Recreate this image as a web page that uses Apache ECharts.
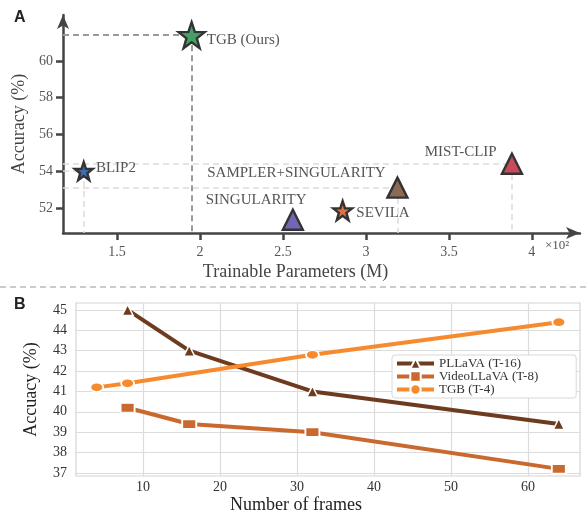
<!DOCTYPE html>
<html><head><meta charset="utf-8">
<script src="https://cdn.jsdelivr.net/npm/echarts@6/dist/echarts.min.js"></script>
<style>html,body{margin:0;padding:0;background:#fff}#c{width:586px;height:510px}</style>
</head><body><div id="c"></div>
<script>
// ---- Panel A data ----
const modelNames = ['TGB (Ours)', 'BLIP2', 'SINGULARITY', 'SEVILA', 'SAMPLER+SINGULARITY', 'MIST-CLIP'];
const modelParams = [1.95, 1.30, 2.56, 2.86, 3.19, 3.88];   // ×10² M
const modelAcc = [61.4, 54.0, 51.35, 51.85, 53.1, 54.4];
const paramTicks = [1.5, 2, 2.5, 3, 3.5, 4];
const accTicksA = [52, 54, 56, 58, 60];

// ---- Panel B data ----
const pllavaFrames = [8, 16, 32, 64];
const pllavaAcc = [45.0, 43.0, 41.0, 39.4];
const videoFrames = [8, 16, 32, 64];
const videoAcc = [40.2, 39.4, 39.0, 37.2];
const tgbFrames = [4, 8, 32, 64];
const tgbAcc = [41.2, 41.4, 42.8, 44.4];
const frameTicks = [10, 20, 30, 40, 50, 60];
const accTicksB = [37, 38, 39, 40, 41, 42, 43, 44, 45];

const SERIF = '"Liberation Serif","DejaVu Serif",serif';
const STAR = 'path://M0,-10 L2.35,-3.24 L9.51,-3.09 L3.8,1.24 L5.88,8.09 L0,4 L-5.88,8.09 L-3.8,1.24 L-9.51,-3.09 L-2.35,-3.24 Z';

const xMinA = 1.175, xMaxA = 4.29, yMinA = 50.63, yMaxA = 62.5;

const markerStyle = [
  {symbol: STAR, size: 26, color: '#45a062', label: {position: 'right', distance: 1, offset: [0, 5]}},
  {symbol: STAR, size: 18, color: '#3d6db3', label: {position: 'right', distance: 2, offset: [0, -3]}},
  {symbol: 'triangle', size: 20, color: '#7366b3', label: {position: [-76, -9], align: 'left', verticalAlign: 'middle'}},
  {symbol: STAR, size: 19, color: '#d97443', label: {position: 'right', distance: 3, offset: [0, 2]}},
  {symbol: 'triangle', size: 20, color: '#8b6a55', label: {position: [-179, -3], align: 'left', verticalAlign: 'middle'}},
  {symbol: 'triangle', size: 20, color: '#c94a5a', label: {position: [-76, 0], align: 'left', verticalAlign: 'middle'}}
];

const scatterSeries = modelNames.map((n, i) => ({
  type: 'scatter', xAxisIndex: 0, yAxisIndex: 0, z: 5,
  data: [[modelParams[i], modelAcc[i]]],
  symbol: markerStyle[i].symbol, symbolSize: markerStyle[i].size,
  itemStyle: {color: markerStyle[i].color, borderColor: '#333', borderWidth: 2.4, opacity: 1},
  label: Object.assign({show: true, formatter: n, color: '#555', fontFamily: SERIF, fontSize: 15}, markerStyle[i].label)
}));

function guide(i, color, width) {
  return [
    [{coord: [xMinA, modelAcc[i]]}, {coord: [modelParams[i], modelAcc[i]]}],
    [{coord: [modelParams[i], modelAcc[i]]}, {coord: [modelParams[i], yMinA]}]
  ].map(seg => { seg[0].lineStyle = {color: color, width: width, type: [6, 4]}; return seg; });
}

const guideSeries = {
  type: 'scatter', xAxisIndex: 0, yAxisIndex: 0, data: [], z: 1,
  markLine: {
    silent: true, symbol: 'none', animation: false, label: {show: false},
    data: [].concat(guide(0, '#9a9a9a', 2), guide(1, '#dcdcdc', 1.5), guide(4, '#dcdcdc', 1.5), guide(5, '#dcdcdc', 1.5))
  }
};

function lineSeries(name, xs, ys, color, symbol, size) {
  return {
    name: name, type: 'line', xAxisIndex: 1, yAxisIndex: 1,
    data: xs.map((x, k) => [x, ys[k]]),
    symbol: symbol, symbolSize: size, showSymbol: true,
    lineStyle: {color: color, width: 4},
    itemStyle: {color: color, borderColor: '#fff', borderWidth: 1.5},
    emphasis: {disabled: true}
  };
}

const chart = echarts.init(document.getElementById('c'), null, {renderer: 'canvas'});
chart.setOption({
  animation: false,
  backgroundColor: '#fff',
  title: [
    {text: 'A', left: 9, top: 5, textStyle: {fontFamily: '"Liberation Sans",Arial,sans-serif', fontWeight: 'bold', fontSize: 16, color: '#222'}},
    {text: 'B', left: 9, top: 292, textStyle: {fontFamily: '"Liberation Sans",Arial,sans-serif', fontWeight: 'bold', fontSize: 16, color: '#222'}}
  ],
  graphic: [
    {type: 'line', shape: {x1: 0, y1: 287, x2: 586, y2: 287}, style: {stroke: '#bbb', lineWidth: 1.5, lineDash: [6, 4]}},
    {type: 'text', left: 545, top: 239, style: {text: '×10²', fill: '#555', font: '13px ' + SERIF}}
  ],
  grid: [
    {left: 63, right: 6, top: 15, bottom: 277, outerBoundsMode: 'none', containLabel: false},
    {left: 76, right: 6, top: 303, bottom: 34, show: true, borderColor: '#d4d4d4', borderWidth: 1.2, outerBoundsMode: 'none', containLabel: false}
  ],
  xAxis: [
    {
      gridIndex: 0, type: 'value', min: xMinA, max: xMaxA,
      name: 'Trainable Parameters (M)', nameLocation: 'middle', nameGap: 30,
      nameTextStyle: {fontFamily: SERIF, fontSize: 18, color: '#444', padding: [0, 52, 0, 0]},
      axisLine: {show: true, lineStyle: {color: '#444', width: 2.5}, symbol: ['none', 'arrow'], symbolSize: [9, 14]},
      axisTick: {show: true, length: 7, lineStyle: {color: '#444', width: 2.5}, customValues: paramTicks},
      axisLabel: {customValues: paramTicks, margin: 12, color: '#555', fontFamily: SERIF, fontSize: 14, formatter: v => String(v)},
      splitLine: {show: false}
    },
    {
      gridIndex: 1, type: 'value', min: 1.3, max: 66.75,
      name: 'Number of frames', nameLocation: 'middle', nameGap: 20,
      nameTextStyle: {fontFamily: SERIF, fontSize: 18, color: '#222', padding: [0, 64, 0, 0]},
      axisLine: {show: false}, axisTick: {show: false, customValues: frameTicks},
      axisLabel: {customValues: frameTicks, margin: 4, color: '#333', fontFamily: SERIF, fontSize: 14},
      splitLine: {show: true, lineStyle: {color: '#dcdcdc', width: 1.2}}
    }
  ],
  yAxis: [
    {
      gridIndex: 0, type: 'value', min: yMinA, max: yMaxA,
      name: 'Accuracy (%)', nameLocation: 'middle', nameGap: 33, nameRotate: 90,
      nameTextStyle: {fontFamily: SERIF, fontSize: 18, color: '#444'},
      axisLine: {show: true, lineStyle: {color: '#444', width: 2.5}, symbol: ['none', 'arrow'], symbolSize: [9, 14]},
      axisTick: {show: true, length: 7, lineStyle: {color: '#444', width: 2.5}, customValues: accTicksA},
      axisLabel: {customValues: accTicksA, margin: 10, color: '#555', fontFamily: SERIF, fontSize: 14},
      splitLine: {show: false}
    },
    {
      gridIndex: 1, type: 'value', min: 36.85, max: 45.34,
      name: 'Accuacy (%)', nameLocation: 'middle', nameGap: 36, nameRotate: 90,
      nameTextStyle: {fontFamily: SERIF, fontSize: 18, color: '#222'},
      axisLine: {show: false}, axisTick: {show: false, customValues: accTicksB},
      axisLabel: {customValues: accTicksB, margin: 9, color: '#333', fontFamily: SERIF, fontSize: 14},
      splitLine: {show: true, lineStyle: {color: '#dcdcdc', width: 1.2}}
    }
  ],
  legend: {
    left: 392, top: 355, orient: 'vertical', itemGap: 0, itemWidth: 37, itemHeight: 13,
    padding: [2, 38, 2, 3], borderColor: '#d8d8d8', borderWidth: 1, borderRadius: 3, backgroundColor: '#fff',
    lineStyle: {width: 4},
    textStyle: {fontFamily: SERIF, fontSize: 13, color: '#333'},
    data: ['PLLaVA (T-16)', 'VideoLLaVA (T-8)', 'TGB (T-4)']
  },
  series: [guideSeries].concat(scatterSeries, [
    lineSeries('PLLaVA (T-16)', pllavaFrames, pllavaAcc, '#6e3b1f', 'triangle', 11),
    lineSeries('VideoLLaVA (T-8)', videoFrames, videoAcc, '#c9692e', 'rect', [14, 9]),
    lineSeries('TGB (T-4)', tgbFrames, tgbAcc, '#f58b2e', 'circle', [13, 9])
  ])
});
</script>
</body></html>
